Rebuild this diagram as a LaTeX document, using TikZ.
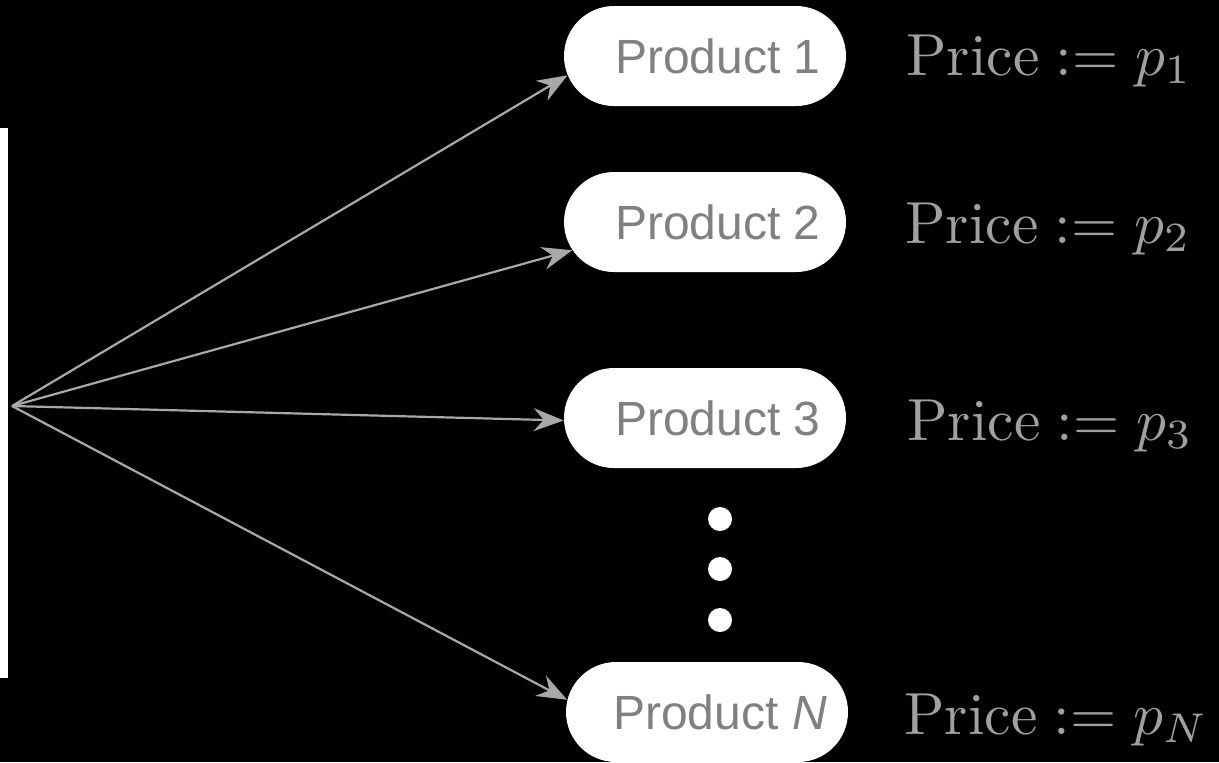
\documentclass[tikz,border=0pt]{standalone}
\usepackage{fontspec}
\newfontfamily\arial{Liberation Sans}
\usetikzlibrary{arrows.meta,shapes.misc}
\definecolor{boxtext}{RGB}{128,128,128}
\definecolor{pricetext}{RGB}{160,160,160}
\definecolor{arrowgray}{RGB}{168,168,168}
\newcommand{\pricelabel}[1]{\scalebox{2.97}{$\mathrm{Price} := p_{#1}$}}
\tikzset{
  product/.style={rounded rectangle, fill=white, minimum width=141pt,
    minimum height=50pt, inner sep=0pt, text=boxtext,
    font=\arial\fontsize{24}{28}\selectfont,
    execute at begin node=\hspace*{13pt}},
  price/.style={anchor=base west, inner sep=0pt, text=pricetext},
  link/.style={draw=arrowgray, line width=1.1pt,
    -{Stealth[length=15pt, width=11.5pt, inset=5pt]}},
  vdot/.style={circle, fill=white, minimum size=12pt, inner sep=0pt},
}
\begin{document}
\begin{tikzpicture}[x=0.5pt, y=-0.5pt]
        % background and left edge
        \fill[black] (0,0) rectangle (1219,762);
        \fill[white] (0,128) rectangle (8,678);
        \coordinate (src) at (12,406);
        % products
        \node[product] (p1) at (705,56) {Product 1};
        \node[product] (p2) at (705,222) {Product 2};
        \node[product] (p3) at (705,418) {Product 3};
        \node[product] (pN) at (707,712) {Product \textit{N}};
        \node[vdot] (d1) at (720,519) {};
        \node[vdot] (d2) at (720,569) {};
        \node[vdot] (d3) at (720,620) {};
        % prices
        \node[price] (c1) at (906,75) {\pricelabel{1}};
        \node[price] (c2) at (905,243) {\pricelabel{2}};
        \node[price] (c3) at (907,440) {\pricelabel{3}};
        \node[price] (cN) at (904,734) {\pricelabel{N}};
        % arrows
        \draw[link] (src) -- (p1.188);
        \draw[link] (src) -- (p2.192);
        \draw[link] (src) -- (p3.181);
        \draw[link] (src) -- (pN.175);
    \end{tikzpicture}
\end{document}
